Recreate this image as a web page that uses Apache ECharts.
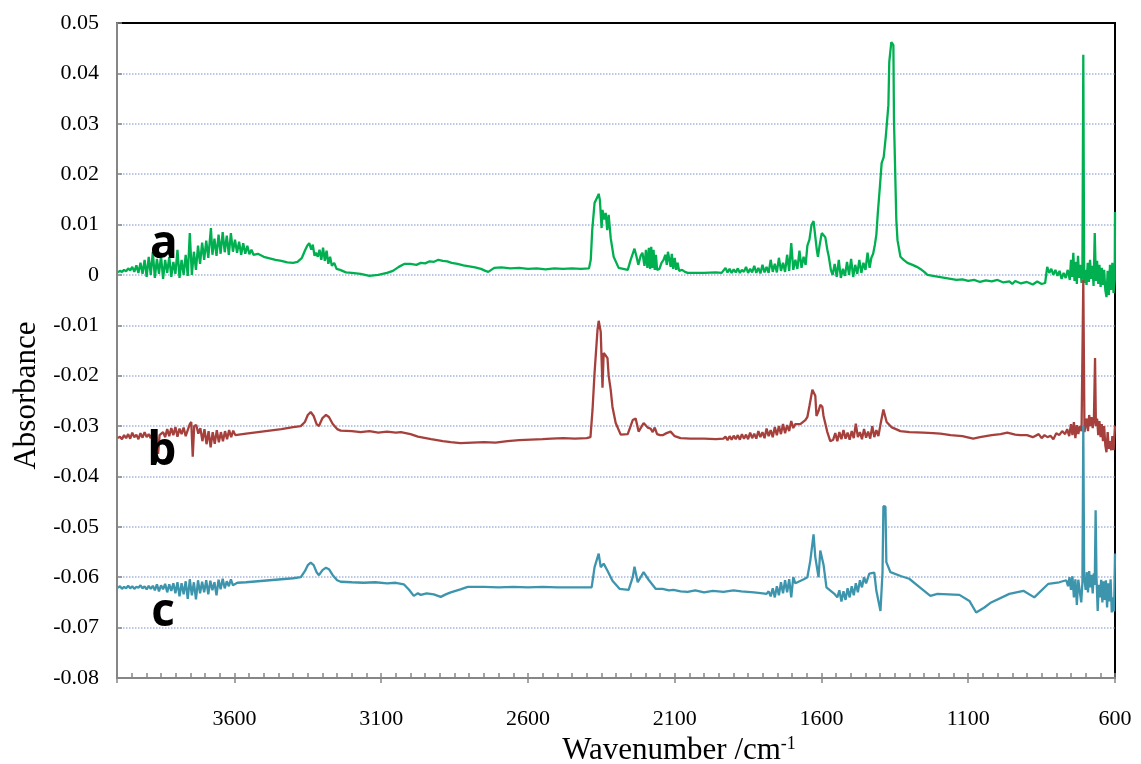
<!DOCTYPE html>
<html>
<head>
<meta charset="utf-8">
<script src="https://cdn.jsdelivr.net/npm/echarts@6/dist/echarts.min.js"></script>
<style>
  html, body { margin: 0; padding: 0; background: #fff; }
  #chart { width: 1141px; height: 764px; }
</style>
</head>
<body>
<div id="chart"></div>
<script>
// [wavenumber cm-1, absorbance]
const spectrumA = [
  [3997,0.0005],[3990,0.0008],[3983,0.0006],[3976,0.0010],[3969,0.0007],[3962,0.0013],[3955,0.0009],[3948,0.0016],
  [3941,0.0006],[3934,0.0019],[3927,0.0004],[3920,0.0024],[3913,0.0002],[3906,0.0030],[3899,-0.0004],[3892,0.0036],
  [3885,0.0000],[3878,0.0046],[3871,-0.0006],[3864,0.0032],[3857,0.0002],[3850,0.0038],[3843,-0.0008],[3836,0.0030],
  [3829,0.0004],[3822,0.0036],[3815,-0.0004],[3808,0.0026],[3801,0.0002],[3794,0.0050],[3787,-0.0006],[3780,0.0030],
  [3773,0.0000],[3766,0.0040],[3759,-0.0002],[3752,0.0083],[3745,0.0000],[3738,0.0046],[3731,0.0010],[3724,0.0058],
  [3717,0.0022],[3710,0.0064],[3703,0.0030],[3696,0.0068],[3689,0.0034],[3680,0.0093],[3675,0.0040],[3668,0.0072],
  [3661,0.0038],[3654,0.0080],[3647,0.0042],[3640,0.0085],[3633,0.0045],[3626,0.0078],[3619,0.0040],[3612,0.0083],
  [3605,0.0046],[3598,0.0070],[3591,0.0044],[3584,0.0066],[3577,0.0040],[3570,0.0063],[3563,0.0042],[3556,0.0058],
  [3549,0.0041],[3542,0.0050],[3535,0.0040],[3520,0.0042],[3500,0.0036],[3480,0.0033],[3460,0.0030],[3440,0.0028],
  [3420,0.0025],[3400,0.0024],[3385,0.0026],[3370,0.0034],[3360,0.0048],[3352,0.0058],[3345,0.0063],[3338,0.0050],
  [3333,0.0060],[3327,0.0038],[3322,0.0044],[3316,0.0036],[3310,0.0050],[3304,0.0030],[3298,0.0054],[3292,0.0028],
  [3286,0.0048],[3280,0.0022],[3274,0.0036],[3268,0.0018],[3260,0.0024],[3252,0.0012],[3240,0.0010],[3220,0.0005],
  [3200,0.0004],[3170,0.0002],[3140,-0.0002],[3110,0.0000],[3080,0.0004],[3060,0.0008],[3040,0.0016],[3020,0.0022],
  [3000,0.0022],[2980,0.0020],[2965,0.0024],[2950,0.0023],[2935,0.0027],[2920,0.0026],[2905,0.0030],[2890,0.0028],
  [2875,0.0027],[2860,0.0024],[2840,0.0022],[2820,0.0019],[2800,0.0017],[2780,0.0015],[2760,0.0012],[2745,0.0008],
  [2735,0.0006],[2725,0.0010],[2715,0.0014],[2690,0.0015],[2660,0.0013],[2630,0.0014],[2600,0.0012],[2570,0.0013],
  [2540,0.0011],[2510,0.0013],[2480,0.0012],[2450,0.0013],[2420,0.0012],[2392,0.0013],[2386,0.0030],[2381,0.0089],
  [2373,0.0143],[2363,0.0155],[2359,0.0161],[2355,0.0149],[2349,0.0093],[2346,0.0129],[2340,0.0110],[2335,0.0123],
  [2330,0.0089],[2325,0.0119],[2318,0.0073],[2308,0.0036],[2291,0.0014],[2260,0.0010],[2250,0.0030],[2237,0.0052],
  [2230,0.0036],[2224,0.0020],[2216,0.0038],[2210,0.0044],[2203,0.0018],[2198,0.0050],[2193,0.0014],[2188,0.0054],
  [2184,0.0012],[2180,0.0056],[2176,0.0014],[2172,0.0050],[2168,0.0010],[2164,0.0040],[2160,0.0010],[2152,0.0012],
  [2145,0.0024],[2138,0.0030],[2132,0.0040],[2127,0.0020],[2123,0.0046],[2118,0.0048],[2114,0.0016],[2110,0.0042],
  [2105,0.0012],[2100,0.0034],[2095,0.0010],[2090,0.0024],[2085,0.0008],[2075,0.0010],[2065,0.0006],[2056,0.0004],
  [2040,0.0004],[2000,0.0004],[1960,0.0005],[1940,0.0004],[1934,0.0006],[1927,0.0014],[1920,0.0005],[1913,0.0012],
  [1906,0.0004],[1899,0.0011],[1892,0.0005],[1885,0.0013],[1878,0.0004],[1871,0.0010],[1864,0.0006],[1857,0.0016],
  [1850,0.0004],[1843,0.0012],[1836,0.0005],[1829,0.0018],[1822,0.0004],[1815,0.0014],[1808,0.0003],[1801,0.0020],
  [1794,0.0005],[1787,0.0016],[1780,0.0004],[1773,0.0030],[1766,0.0006],[1759,0.0022],[1752,0.0005],[1745,0.0034],
  [1738,0.0008],[1731,0.0024],[1724,0.0006],[1717,0.0040],[1710,0.0008],[1703,0.0063],[1696,0.0010],[1689,0.0030],
  [1682,0.0012],[1675,0.0048],[1668,0.0014],[1661,0.0036],[1654,0.0020],[1648,0.0058],[1641,0.0070],[1634,0.0099],
  [1627,0.0107],[1621,0.0105],[1616,0.0050],[1612,0.0036],[1606,0.0060],[1599,0.0083],[1594,0.0080],[1587,0.0075],
  [1580,0.0050],[1575,0.0036],[1568,0.0010],[1562,0.0000],[1555,0.0022],[1548,-0.0004],[1541,0.0030],[1534,-0.0006],
  [1527,0.0012],[1520,-0.0002],[1513,0.0026],[1506,0.0000],[1499,0.0032],[1492,-0.0004],[1485,0.0020],[1478,0.0002],
  [1471,0.0030],[1464,0.0004],[1457,0.0024],[1450,0.0010],[1443,0.0044],[1436,0.0014],[1430,0.0034],[1424,0.0042],
  [1418,0.0060],[1413,0.0080],[1408,0.0123],[1401,0.0175],[1395,0.0222],[1388,0.0234],[1381,0.0274],[1372,0.0337],
  [1369,0.0423],[1362,0.0462],[1355,0.0456],[1353,0.0308],[1345,0.0109],[1341,0.0069],[1331,0.0036],[1320,0.0030],
  [1307,0.0024],[1290,0.0020],[1275,0.0016],[1263,0.0012],[1250,0.0006],[1239,0.0000],[1220,-0.0002],[1200,-0.0004],
  [1180,-0.0006],[1160,-0.0008],[1140,-0.0010],[1120,-0.0009],[1100,-0.0012],[1080,-0.0010],[1060,-0.0014],[1040,-0.0011],
  [1020,-0.0013],[1000,-0.0010],[980,-0.0015],[960,-0.0013],[950,-0.0018],[940,-0.0012],[920,-0.0017],[900,-0.0014],
  [880,-0.0019],[865,-0.0013],[850,-0.0018],[838,-0.0016],[831,0.0016],[824,0.0004],[817,0.0012],[810,0.0000],
  [803,0.0010],[796,-0.0002],[789,0.0008],[782,-0.0008],[775,0.0004],[768,-0.0006],[761,0.0010],[754,-0.0010],
  [750,0.0030],[746,-0.0004],[742,0.0044],[738,-0.0012],[734,0.0026],[730,-0.0018],[726,0.0038],[722,-0.0006],
  [718,0.0020],[714,-0.0016],[711,0.0010],[708,0.0437],[705,-0.0016],[701,0.0010],[697,-0.0020],[693,0.0024],
  [689,-0.0014],[685,0.0030],[681,-0.0008],[677,0.0018],[673,-0.0022],[669,0.0083],[665,-0.0012],[661,0.0028],
  [657,-0.0018],[653,0.0020],[649,-0.0024],[645,0.0014],[641,-0.0020],[637,0.0010],[633,-0.0030],[629,-0.0044],
  [625,0.0008],[621,-0.0040],[617,0.0020],[613,-0.0030],[609,0.0024],[605,-0.0036],[601,-0.0010],[600,0.0125]
];

const spectrumB = [
  [3997,-0.0324],[3990,-0.0321],[3983,-0.0326],[3976,-0.0318],[3969,-0.0324],[3962,-0.0316],[3955,-0.0325],[3948,-0.0313],
  [3941,-0.0322],[3934,-0.0317],[3927,-0.0326],[3920,-0.0314],[3913,-0.0323],[3906,-0.0312],[3899,-0.0322],[3892,-0.0316],
  [3885,-0.0324],[3878,-0.0312],[3867,-0.0320],[3860,-0.0355],[3855,-0.0318],[3850,-0.0318],[3843,-0.0312],[3836,-0.0322],
  [3829,-0.0306],[3822,-0.0320],[3815,-0.0304],[3808,-0.0318],[3801,-0.0302],[3794,-0.0321],[3787,-0.0305],[3780,-0.0316],
  [3773,-0.0303],[3766,-0.0320],[3759,-0.0308],[3752,-0.0296],[3747,-0.0292],[3742,-0.0361],[3737,-0.0300],[3730,-0.0298],
  [3723,-0.0315],[3716,-0.0304],[3709,-0.0330],[3702,-0.0306],[3695,-0.0336],[3688,-0.0310],[3681,-0.0342],[3674,-0.0312],
  [3667,-0.0335],[3660,-0.0308],[3653,-0.0332],[3646,-0.0312],[3639,-0.0330],[3632,-0.0310],[3625,-0.0326],[3618,-0.0308],
  [3611,-0.0322],[3604,-0.0309],[3597,-0.0318],[3560,-0.0315],[3520,-0.0312],[3480,-0.0309],[3440,-0.0306],[3400,-0.0302],
  [3374,-0.0300],[3360,-0.0292],[3350,-0.0278],[3340,-0.0272],[3330,-0.0280],[3320,-0.0296],[3312,-0.0300],[3300,-0.0284],
  [3288,-0.0278],[3278,-0.0282],[3265,-0.0296],[3250,-0.0306],[3238,-0.0309],[3200,-0.0310],[3170,-0.0312],[3140,-0.0310],
  [3110,-0.0313],[3080,-0.0311],[3050,-0.0313],[3033,-0.0312],[3000,-0.0316],[2975,-0.0321],[2930,-0.0326],[2890,-0.0330],
  [2863,-0.0332],[2830,-0.0334],[2790,-0.0333],[2750,-0.0332],[2710,-0.0333],[2670,-0.0330],[2630,-0.0328],[2590,-0.0327],
  [2550,-0.0326],[2520,-0.0325],[2480,-0.0324],[2440,-0.0325],[2400,-0.0324],[2387,-0.0322],[2380,-0.0268],[2373,-0.0194],
  [2363,-0.0109],[2359,-0.0091],[2352,-0.0113],[2349,-0.0169],[2346,-0.0224],[2342,-0.0155],[2335,-0.0160],[2329,-0.0165],
  [2325,-0.0200],[2318,-0.0228],[2312,-0.0262],[2301,-0.0294],[2284,-0.0317],[2260,-0.0316],[2243,-0.0288],[2233,-0.0285],
  [2223,-0.0311],[2206,-0.0294],[2192,-0.0303],[2182,-0.0305],[2175,-0.0312],[2168,-0.0303],[2160,-0.0316],[2150,-0.0318],
  [2141,-0.0318],[2128,-0.0314],[2114,-0.0311],[2100,-0.0320],[2080,-0.0324],[2046,-0.0325],[2000,-0.0325],[1960,-0.0326],
  [1934,-0.0325],[1927,-0.0321],[1920,-0.0328],[1913,-0.0320],[1906,-0.0327],[1899,-0.0319],[1892,-0.0326],[1885,-0.0318],
  [1878,-0.0327],[1871,-0.0316],[1864,-0.0325],[1857,-0.0317],[1850,-0.0326],[1843,-0.0313],[1836,-0.0324],[1829,-0.0315],
  [1822,-0.0325],[1815,-0.0310],[1808,-0.0322],[1801,-0.0312],[1794,-0.0324],[1787,-0.0305],[1780,-0.0320],[1773,-0.0308],
  [1766,-0.0322],[1759,-0.0302],[1752,-0.0318],[1745,-0.0300],[1738,-0.0316],[1731,-0.0296],[1724,-0.0314],[1717,-0.0298],
  [1710,-0.0310],[1703,-0.0290],[1696,-0.0304],[1689,-0.0296],[1672,-0.0296],[1655,-0.0288],[1648,-0.0282],[1641,-0.0260],
  [1631,-0.0228],[1627,-0.0225],[1621,-0.0240],[1617,-0.0280],[1610,-0.0270],[1604,-0.0258],[1597,-0.0262],[1593,-0.0280],
  [1580,-0.0312],[1570,-0.0330],[1560,-0.0327],[1553,-0.0314],[1546,-0.0330],[1539,-0.0312],[1532,-0.0326],[1525,-0.0308],
  [1518,-0.0325],[1511,-0.0313],[1504,-0.0327],[1497,-0.0310],[1490,-0.0324],[1483,-0.0295],[1476,-0.0322],[1469,-0.0312],
  [1462,-0.0326],[1455,-0.0306],[1448,-0.0323],[1441,-0.0311],[1434,-0.0325],[1427,-0.0300],[1420,-0.0322],[1413,-0.0308],
  [1406,-0.0320],[1400,-0.0300],[1389,-0.0267],[1378,-0.0292],[1362,-0.0302],[1331,-0.0310],[1300,-0.0312],[1253,-0.0313],
  [1220,-0.0314],[1195,-0.0315],[1160,-0.0318],[1120,-0.0320],[1083,-0.0325],[1060,-0.0322],[1040,-0.0320],[1020,-0.0318],
  [990,-0.0316],[967,-0.0313],[940,-0.0317],[923,-0.0318],[900,-0.0318],[880,-0.0322],[860,-0.0316],[850,-0.0324],
  [840,-0.0318],[830,-0.0322],[820,-0.0319],[810,-0.0326],[800,-0.0314],[790,-0.0318],[780,-0.0310],[770,-0.0316],
  [763,-0.0306],[756,-0.0320],[750,-0.0296],[745,-0.0318],[740,-0.0292],[735,-0.0324],[730,-0.0298],[725,-0.0316],
  [720,-0.0300],[714,-0.0310],[708,-0.0010],[704,-0.0312],[700,-0.0298],[696,-0.0285],[692,-0.0310],[688,-0.0278],
  [684,-0.0300],[680,-0.0282],[676,-0.0304],[672,-0.0290],[668,-0.0165],[665,-0.0300],[661,-0.0285],[657,-0.0318],
  [653,-0.0290],[649,-0.0322],[645,-0.0296],[641,-0.0330],[637,-0.0300],[633,-0.0338],[629,-0.0352],[625,-0.0312],
  [621,-0.0345],[617,-0.0330],[613,-0.0348],[609,-0.0320],[605,-0.0348],[601,-0.0350],[600,-0.0300]
];

const spectrumC = [
  [3997,-0.0621],[3990,-0.0618],[3983,-0.0623],[3976,-0.0619],[3969,-0.0622],[3962,-0.0617],[3955,-0.0622],[3948,-0.0618],
  [3941,-0.0623],[3934,-0.0619],[3927,-0.0621],[3920,-0.0616],[3913,-0.0622],[3906,-0.0618],[3899,-0.0624],[3892,-0.0617],
  [3885,-0.0623],[3878,-0.0617],[3871,-0.0626],[3864,-0.0614],[3857,-0.0628],[3850,-0.0616],[3843,-0.0624],[3836,-0.0613],
  [3829,-0.0630],[3822,-0.0614],[3815,-0.0627],[3808,-0.0612],[3801,-0.0632],[3794,-0.0610],[3787,-0.0638],[3780,-0.0612],
  [3773,-0.0634],[3766,-0.0608],[3759,-0.0643],[3752,-0.0604],[3745,-0.0636],[3738,-0.0610],[3731,-0.0644],[3724,-0.0606],
  [3717,-0.0632],[3710,-0.0609],[3703,-0.0630],[3696,-0.0606],[3689,-0.0634],[3682,-0.0607],[3675,-0.0626],[3668,-0.0610],
  [3661,-0.0636],[3654,-0.0605],[3647,-0.0624],[3640,-0.0603],[3633,-0.0622],[3626,-0.0608],[3619,-0.0618],[3612,-0.0604],
  [3605,-0.0616],[3590,-0.0611],[3560,-0.0610],[3520,-0.0608],[3480,-0.0606],[3440,-0.0604],[3400,-0.0602],[3374,-0.0600],
  [3360,-0.0588],[3350,-0.0576],[3340,-0.0571],[3330,-0.0576],[3320,-0.0590],[3312,-0.0596],[3300,-0.0586],[3288,-0.0581],
  [3278,-0.0584],[3265,-0.0596],[3250,-0.0606],[3238,-0.0609],[3200,-0.0610],[3160,-0.0611],[3120,-0.0610],[3080,-0.0612],
  [3050,-0.0611],[3023,-0.0614],[3005,-0.0625],[2989,-0.0637],[2975,-0.0632],[2965,-0.0635],[2945,-0.0632],[2921,-0.0634],
  [2897,-0.0639],[2880,-0.0634],[2863,-0.0630],[2830,-0.0624],[2805,-0.0619],[2751,-0.0619],[2700,-0.0620],[2650,-0.0619],
  [2600,-0.0620],[2550,-0.0619],[2500,-0.0620],[2450,-0.0620],[2400,-0.0620],[2383,-0.0620],[2373,-0.0580],[2359,-0.0553],
  [2352,-0.0580],[2342,-0.0573],[2329,-0.0587],[2312,-0.0607],[2288,-0.0623],[2257,-0.0625],[2243,-0.0600],[2237,-0.0579],
  [2226,-0.0610],[2206,-0.0590],[2189,-0.0605],[2165,-0.0623],[2141,-0.0623],[2120,-0.0626],[2104,-0.0625],[2080,-0.0628],
  [2056,-0.0629],[2030,-0.0626],[2000,-0.0630],[1970,-0.0627],[1934,-0.0629],[1900,-0.0626],[1873,-0.0628],[1830,-0.0630],
  [1800,-0.0632],[1787,-0.0633],[1780,-0.0628],[1773,-0.0638],[1766,-0.0622],[1759,-0.0640],[1752,-0.0618],[1745,-0.0636],
  [1738,-0.0610],[1731,-0.0632],[1724,-0.0606],[1717,-0.0630],[1710,-0.0604],[1703,-0.0640],[1696,-0.0600],[1689,-0.0612],
  [1660,-0.0604],[1648,-0.0600],[1638,-0.0567],[1627,-0.0515],[1621,-0.0560],[1610,-0.0600],[1604,-0.0547],[1593,-0.0575],
  [1583,-0.0620],[1556,-0.0633],[1546,-0.0640],[1539,-0.0626],[1532,-0.0648],[1525,-0.0628],[1518,-0.0645],[1511,-0.0622],
  [1504,-0.0640],[1497,-0.0618],[1490,-0.0636],[1483,-0.0612],[1476,-0.0630],[1469,-0.0606],[1462,-0.0620],[1455,-0.0600],
  [1448,-0.0612],[1437,-0.0593],[1420,-0.0591],[1413,-0.0627],[1399,-0.0667],[1392,-0.0590],[1389,-0.0459],[1382,-0.0460],
  [1379,-0.0570],[1365,-0.0590],[1328,-0.0598],[1301,-0.0603],[1267,-0.0619],[1229,-0.0637],[1205,-0.0633],[1130,-0.0635],
  [1096,-0.0647],[1073,-0.0670],[1045,-0.0660],[1022,-0.0650],[960,-0.0633],[912,-0.0627],[875,-0.0640],[827,-0.0613],
  [790,-0.0610],[766,-0.0606],[760,-0.0618],[755,-0.0600],[750,-0.0625],[745,-0.0598],[740,-0.0640],[735,-0.0604],
  [730,-0.0655],[725,-0.0605],[720,-0.0628],[715,-0.0650],[711,-0.0610],[708,-0.0300],[705,-0.0600],[700,-0.0625],
  [696,-0.0590],[692,-0.0630],[688,-0.0588],[684,-0.0620],[680,-0.0595],[676,-0.0632],[672,-0.0592],[669,-0.0615],
  [666,-0.0467],[663,-0.0600],[659,-0.0667],[655,-0.0615],[651,-0.0640],[647,-0.0605],[643,-0.0650],[639,-0.0608],
  [635,-0.0645],[631,-0.0606],[627,-0.0660],[623,-0.0612],[619,-0.0648],[615,-0.0604],[611,-0.0670],[607,-0.0640],
  [603,-0.0668],[600,-0.0553]
];

const traceLetters = ['a', 'b', 'c'];
const letterWn = [3840, 3847, 3843];
const letterAbs = [0.0060, -0.0351, -0.0671];

const chart = echarts.init(document.getElementById('chart'));

const serif = 'Liberation Serif';
const axisGray = '#868686';

function yLabel(v) {
  const r = Math.round(v * 100) / 100;
  return r === 0 ? '0' : r.toFixed(2);
}

const option = {
  animation: false,
  backgroundColor: '#fff',
  grid: {
    left: 117, right: 26, top: 23, bottom: 86,
    show: true, borderColor: '#000', borderWidth: 2,
    outerBoundsMode: 'none'
  },
  xAxis: [
    {
      type: 'value', min: 600, max: 4000, interval: 500, inverse: true, position: 'bottom',
      axisLine: { show: true, onZero: false, lineStyle: { color: axisGray, width: 2 } },
      axisTick: { show: true, inside: false, length: 5, lineStyle: { color: axisGray, width: 1.5 } },
      axisLabel: {
        color: '#000', fontFamily: serif, fontSize: 22, margin: 30,
        formatter: v => (v === 4000 ? '' : String(v))
      },
      splitLine: { show: false },
      name: '{n|Wavenumber /cm}{s|-1}',
      nameLocation: 'middle',
      nameGap: 50,
      nameTextStyle: {
        padding: [0, 0, 0, 126],
        rich: {
          n: { fontFamily: serif, fontSize: 31, color: '#000' },
          s: { fontFamily: serif, fontSize: 18, color: '#000', verticalAlign: 'top' }
        }
      }
    },
    {
      type: 'value', min: 600, max: 4000, interval: 50, inverse: true, position: 'bottom',
      axisLine: { show: false, onZero: false },
      axisTick: { show: true, inside: true, length: 5, lineStyle: { color: axisGray, width: 1.5 } },
      axisLabel: { show: false },
      splitLine: { show: false }
    }
  ],
  yAxis: {
    type: 'value', min: -0.08, max: 0.05, interval: 0.01,
    axisLine: { show: true, onZero: false, lineStyle: { color: axisGray, width: 2 } },
    axisTick: { show: true, inside: true, length: 5, lineStyle: { color: axisGray, width: 1.5 } },
    axisLabel: { color: '#000', fontFamily: serif, fontSize: 22, margin: 18, formatter: yLabel },
    splitLine: {
      show: true, showMinLine: false, showMaxLine: false,
      lineStyle: { type: 'dotted', color: '#a4b7de', width: 1.5 }
    },
    name: 'Absorbance',
    nameLocation: 'middle',
    nameGap: 58,
    nameTextStyle: { fontFamily: serif, fontSize: 31, color: '#000', padding: [0, 90, 0, 0] }
  },
  series: [
    {
      name: 'a', type: 'line', data: spectrumA, showSymbol: false, symbol: 'none',
      lineStyle: { color: '#00b050', width: 2.3 }, z: 3
    },
    {
      name: 'b', type: 'line', data: spectrumB, showSymbol: false, symbol: 'none',
      lineStyle: { color: '#a6403c', width: 2.3 }, z: 3
    },
    {
      name: 'c', type: 'line', data: spectrumC, showSymbol: false, symbol: 'none',
      lineStyle: { color: '#3d95ad', width: 2.3 }, z: 3
    },
    {
      type: 'scatter', silent: true, z: 6,
      symbol: 'circle', symbolSize: 0, itemStyle: { color: '#000', opacity: 0 },
      data: traceLetters.map((t, i) => ({ name: t, value: [letterWn[i], letterAbs[i]] })),
      label: {
        show: true, position: 'inside', formatter: p => p.name, opacity: 1,
        fontFamily: 'Open Sans', fontWeight: 'bold', fontSize: 46, color: '#000',
        textBorderWidth: 0
      }
    }
  ]
};

chart.setOption(option);
</script>
</body>
</html>
